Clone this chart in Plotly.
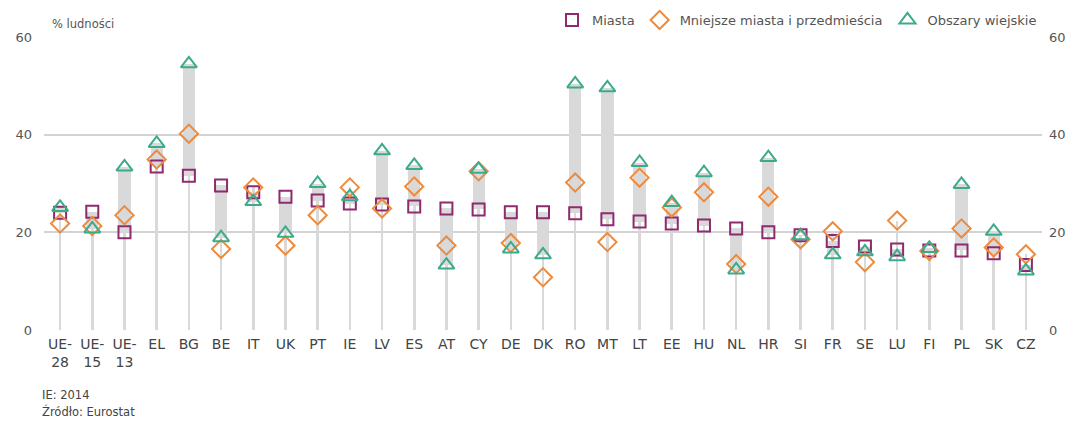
import plotly.graph_objects as go

categories = ["UE-<br>28", "UE-<br>15", "UE-<br>13", "EL", "BG", "BE", "IT", "UK", "PT", "IE", "LV",
              "ES", "AT", "CY", "DE", "DK", "RO", "MT", "LT", "EE", "HU", "NL", "HR", "SI",
              "FR", "SE", "LU", "FI", "PL", "SK", "CZ"]
miasta = [24.0, 24.2, 20.0, 33.5, 31.6, 29.6, 28.2, 27.3, 26.5, 25.9, 25.7,
          25.3, 24.9, 24.7, 24.1, 24.1, 23.9, 22.7, 22.2, 21.8, 21.4, 20.8, 20.0, 19.4,
          18.2, 17.1, 16.5, 16.3, 16.3, 15.7, 13.3]
mniejsze = [21.8, 21.3, 23.5, 34.9, 40.2, 16.6, 29.2, 17.3, 23.5, 29.2, 24.9,
            29.4, 17.3, 32.5, 17.8, 10.8, 30.2, 18.0, 31.2, 25.1, 28.2, 13.5, 27.3, 18.6,
            20.2, 13.9, 22.4, 16.2, 20.8, 16.9, 15.5]
wiejskie = [25.1, 20.7, 33.4, 38.2, 54.5, 18.9, 26.3, 19.8, 30.0, 27.3, 36.7,
            33.7, 13.3, 32.9, 16.6, 15.4, 50.4, 49.6, 34.3, 26.1, 32.2, 12.3, 35.3, 19.3,
            15.4, 16.0, 15.0, 16.7, 29.8, 20.2, 12.1]
y_ticks = [0, 20, 40, 60]

x = list(range(len(categories)))
top = [max(a, b, c) for a, b, c in zip(miasta, mniejsze, wiejskie)]
band_lo = [min(a, c) for a, c in zip(miasta, wiejskie)]
band_h = [abs(a - c) for a, c in zip(miasta, wiejskie)]

PURPLE = "#8E2A6E"
ORANGE = "#EE8A3C"
GREEN = "#3DAA8C"
GREY = "#d9d9d9"
FONT = "DejaVu Sans"

fig = go.Figure()
fig.add_trace(go.Bar(x=x, y=top, base=0, width=0.08, marker=dict(color=GREY, line_width=0),
                     showlegend=False, hoverinfo="skip"))
fig.add_trace(go.Bar(x=x, y=band_h, base=band_lo, width=0.38, marker=dict(color=GREY, line_width=0),
                     showlegend=False, hoverinfo="skip"))
fig.add_trace(go.Scatter(x=x, y=miasta, mode="markers", name="Miasta",
                         marker=dict(symbol="square-open", size=12, color=PURPLE, line=dict(width=2, color=PURPLE)),
                         cliponaxis=False))
fig.add_trace(go.Scatter(x=x, y=mniejsze, mode="markers", name="Mniejsze miasta i przedmieścia",
                         marker=dict(symbol="diamond-open", size=14, color=ORANGE, line=dict(width=2, color=ORANGE)),
                         cliponaxis=False))
fig.add_trace(go.Scatter(x=x, y=wiejskie, mode="markers", name="Obszary wiejskie",
                         marker=dict(symbol="triangle-up-open", size=14, color=GREEN, line=dict(width=2, color=GREEN)),
                         cliponaxis=False))
# right-side axis labels
fig.add_trace(go.Scatter(x=[x[0]], y=[y_ticks[0]], yaxis="y2", mode="markers",
                         marker=dict(opacity=0), showlegend=False, hoverinfo="skip"))

fig.update_layout(
    width=1061, height=410,
    margin=dict(l=36, r=27, t=29, b=88, autoexpand=False),
    paper_bgcolor="white", plot_bgcolor="white",
    barmode="overlay", bargap=0,
    font=dict(family=FONT, color="#555555", size=13),
    xaxis=dict(tickmode="array", tickvals=x, ticktext=categories, range=[-0.5, len(x) - 0.5],
               showgrid=False, zeroline=False, showline=False, ticks="", ticklabelstandoff=4,
               tickfont=dict(size=14, color="#444444"), tickangle=0, automargin=False),
    yaxis=dict(range=[0, 60], tickvals=y_ticks, showgrid=True, gridcolor="#d3d3d3", gridwidth=2,
               zeroline=False, showline=False, ticks="", ticklabelstandoff=11, automargin=False,
               tickfont=dict(size=13, color="#555555")),
    yaxis2=dict(range=[0, 60], tickvals=y_ticks, overlaying="y", side="right", showgrid=False,
                zeroline=False, showline=False, ticks="", ticklabelstandoff=6, automargin=False,
                tickfont=dict(size=13, color="#555555")),
    legend=dict(orientation="h", xanchor="right", x=1.0, yanchor="middle", y=1.058,
                font=dict(size=13, color="#555555"), itemwidth=30, tracegroupgap=0,
                bgcolor="rgba(0,0,0,0)"),
    annotations=[
        dict(text="% ludności", xref="paper", yref="paper", x=0.006, y=1.015, xanchor="left", yanchor="bottom",
             showarrow=False, font=dict(size=11.5, color="#555555")),
        dict(text="IE: 2014", xref="paper", yref="paper", x=-0.004, y=-0.222, xanchor="left", yanchor="middle",
             showarrow=False, font=dict(size=11.5, color="#444444")),
        dict(text="Źródło: Eurostat", xref="paper", yref="paper", x=-0.004, y=-0.279, xanchor="left", yanchor="middle",
             showarrow=False, font=dict(size=11.5, color="#444444")),
    ],
)

fig.write_html("out.html")
